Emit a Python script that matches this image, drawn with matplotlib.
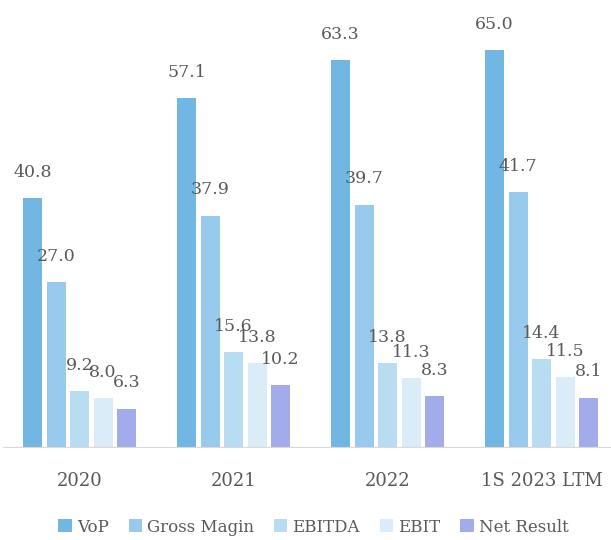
import numpy as np
import matplotlib.pyplot as plt

categories = ["2020", "2021", "2022", "1S 2023 LTM"]
series = ["VoP", "Gross Magin", "EBITDA", "EBIT", "Net Result"]
vop = [40.8, 57.1, 63.3, 65.0]
gross = [27.0, 37.9, 39.7, 41.7]
ebitda = [9.2, 15.6, 13.8, 14.4]
ebit = [8.0, 13.8, 11.3, 11.5]
net = [6.3, 10.2, 8.3, 8.1]
colors = ["#72B7E3", "#97CAEC", "#B8DCF1", "#DAECF8", "#A2ACEB"]

plt.rcParams['font.family'] = ['DejaVu Serif']
txt = "#595959"

fig = plt.figure(figsize=(6.11, 5.4), dpi=100)
ax = fig.add_axes([3/611, 93/540, 608/611, 447/540])

x = np.arange(len(categories))
slot = 0.1526
width = 0.123
data = [vop, gross, ebitda, ebit, net]
for i, (name, vals) in enumerate(zip(series, data)):
    pos = x + (i - 2) * slot
    bars = ax.bar(pos, vals, width, color=colors[i], label=name)
    for b, v in zip(bars, vals):
        ax.annotate(f"{v:.1f}", (b.get_x() + b.get_width() / 2, v),
                    xytext=(0, 18.5), textcoords="offset points",
                    ha="center", va="center", fontsize=12.5, color=txt)

ax.set_xlim(-0.497, 3.45)
ax.set_ylim(0, 73.2)
ax.set_xticks(x)
ax.set_xticklabels(categories, fontsize=13, color=txt)
ax.tick_params(axis="x", length=0, pad=18)
ax.set_yticks([])
for s in ["top", "right", "left"]:
    ax.spines[s].set_visible(False)
ax.spines["bottom"].set_color("#D9D9D9")

fig.legend(loc="center", bbox_to_anchor=(0.513, 1 - 527/540), ncol=5, frameon=False,
           fontsize=12, labelcolor=txt, handlelength=0.8, handleheight=0.8,
           handletextpad=0.3, columnspacing=1.2)

fig.savefig("out.png", dpi=100)
